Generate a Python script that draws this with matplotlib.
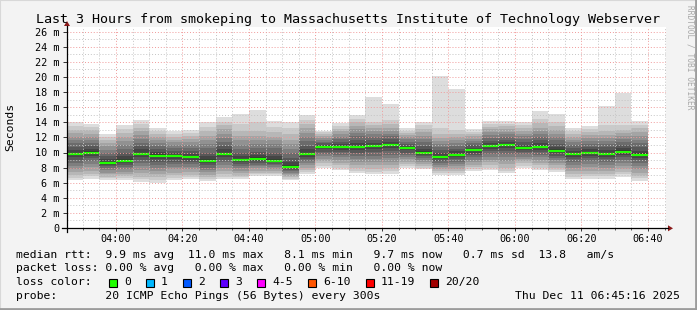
import matplotlib
matplotlib.use("Agg")
import matplotlib.pyplot as plt
import matplotlib.dates as mdates
import pandas as pd
from matplotlib.patches import Rectangle, Polygon
from matplotlib.lines import Line2D

plt.rcParams['font.family'] = ['DejaVu Sans Mono']

# ---- data ------------------------------------------------------------------
day = "2025-12-11 "
slots = ["03:45", "03:50", "03:55", "04:00", "04:05", "04:10", "04:15",
         "04:20", "04:25", "04:30", "04:35", "04:40", "04:45", "04:50",
         "04:55", "05:00", "05:05", "05:10", "05:15", "05:20", "05:25",
         "05:30", "05:35", "05:40", "05:45", "05:50", "05:55", "06:00",
         "06:05", "06:10", "06:15", "06:20", "06:25", "06:30", "06:35"]

# median rtt per 5 min step (ms)
median = [9.8, 10.0, 8.65, 8.9, 9.85, 9.6, 9.5, 9.4, 8.9, 9.8, 9.0, 9.15,
          8.9, 8.08, 9.75, 10.7, 10.7, 10.75, 10.85, 11.0, 10.6, 9.97, 9.45,
          9.7, 10.33, 10.8, 11.0, 10.6, 10.7, 10.2, 9.85, 9.97, 9.85, 10.1, 9.7]

# the 20 sorted ping times of every step (ms)
pings = [
    [6.3, 6.65, 7.0, 7.4, 7.85, 8.25, 8.65, 9.05, 9.4, 9.65, 9.95, 10.3, 10.7, 11.2, 11.65, 12.1, 12.55, 13.0, 13.5, 14.0],
    [6.5, 6.85, 7.2, 7.6, 8.05, 8.45, 8.85, 9.25, 9.6, 9.85, 10.15, 10.45, 10.85, 11.25, 11.65, 12.1, 12.5, 12.95, 13.35, 13.8],
    [6.35, 6.6, 6.8, 7.1, 7.35, 7.65, 7.9, 8.15, 8.4, 8.55, 8.8, 9.1, 9.5, 9.95, 10.35, 10.8, 11.2, 11.6, 12.05, 12.5],
    [6.35, 6.6, 6.85, 7.15, 7.45, 7.75, 8.05, 8.35, 8.6, 8.8, 9.1, 9.5, 9.95, 10.5, 11.0, 11.55, 12.05, 12.6, 13.1, 13.7],
    [6.05, 6.45, 6.8, 7.25, 7.7, 8.15, 8.6, 9.0, 9.4, 9.7, 10.0, 10.4, 10.8, 11.3, 11.8, 12.3, 12.8, 13.3, 13.8, 14.3],
    [6.0, 6.35, 6.7, 7.15, 7.6, 8.0, 8.4, 8.8, 9.15, 9.45, 9.75, 10.05, 10.4, 10.8, 11.2, 11.6, 12.0, 12.4, 12.8, 13.2],
    [6.35, 6.65, 7.0, 7.35, 7.75, 8.1, 8.45, 8.8, 9.15, 9.4, 9.65, 9.9, 10.25, 10.6, 11.0, 11.35, 11.7, 12.1, 12.45, 12.85],
    [6.45, 6.75, 7.05, 7.4, 7.75, 8.1, 8.45, 8.75, 9.05, 9.3, 9.55, 9.85, 10.2, 10.6, 11.0, 11.4, 11.8, 12.2, 12.6, 13.0],
    [6.2, 6.45, 6.75, 7.05, 7.4, 7.7, 8.0, 8.3, 8.6, 8.8, 9.1, 9.5, 10.0, 10.6, 11.15, 11.7, 12.25, 12.85, 13.4, 14.0],
    [6.45, 6.8, 7.1, 7.5, 7.95, 8.3, 8.7, 9.05, 9.4, 9.65, 10.0, 10.4, 10.9, 11.4, 11.95, 12.5, 13.05, 13.6, 14.1, 14.7],
    [6.45, 6.7, 6.95, 7.25, 7.6, 7.9, 8.15, 8.45, 8.7, 8.9, 9.2, 9.55, 10.0, 10.5, 11.0, 11.6, 12.2, 12.9, 13.8, 15.05],
    [6.9, 7.1, 7.35, 7.6, 7.9, 8.15, 8.4, 8.65, 8.9, 9.05, 9.35, 9.7, 10.1, 10.6, 11.1, 11.6, 12.2, 12.9, 14.1, 15.6],
    [6.9, 7.1, 7.3, 7.55, 7.8, 8.05, 8.3, 8.5, 8.7, 8.85, 9.1, 9.5, 10.0, 10.55, 11.1, 11.6, 12.1, 12.7, 13.4, 14.2],
    [6.35, 6.5, 6.7, 6.9, 7.1, 7.3, 7.5, 7.7, 7.9, 8.0, 8.3, 8.7, 9.3, 9.9, 10.5, 11.1, 11.7, 12.4, 13.2, 14.1],
    [7.2, 7.45, 7.7, 8.0, 8.35, 8.65, 8.9, 9.2, 9.45, 9.65, 9.95, 10.4, 10.9, 11.5, 12.05, 12.6, 13.2, 13.75, 14.35, 15.0],
    [8.0, 8.25, 8.55, 8.85, 9.2, 9.5, 9.8, 10.1, 10.4, 10.6, 10.8, 10.95, 11.2, 11.45, 11.65, 11.9, 12.15, 12.4, 12.65, 12.9],
    [7.7, 8.0, 8.3, 8.65, 9.0, 9.4, 9.7, 10.05, 10.35, 10.6, 10.85, 11.1, 11.4, 11.75, 12.1, 12.45, 12.8, 13.15, 13.5, 13.9],
    [7.25, 7.6, 7.95, 8.35, 8.8, 9.2, 9.6, 10.0, 10.35, 10.6, 10.9, 11.25, 11.7, 12.15, 12.6, 13.1, 13.55, 14.0, 14.5, 15.0],
    [7.1, 7.45, 7.85, 8.3, 8.75, 9.2, 9.6, 10.05, 10.4, 10.7, 11.0, 11.3, 11.65, 12.0, 12.4, 12.8, 13.2, 13.6, 14.1, 17.3],
    [7.1, 7.5, 7.9, 8.35, 8.8, 9.3, 9.7, 10.15, 10.55, 10.85, 11.15, 11.45, 11.8, 12.15, 12.5, 12.9, 13.3, 13.75, 14.3, 16.4],
    [7.9, 8.15, 8.45, 8.75, 9.1, 9.4, 9.7, 10.0, 10.3, 10.5, 10.7, 10.9, 11.15, 11.45, 11.75, 12.05, 12.3, 12.6, 12.9, 13.2],
    [7.8, 8.0, 8.25, 8.5, 8.75, 9.0, 9.25, 9.5, 9.7, 9.9, 10.15, 10.45, 10.85, 11.35, 11.8, 12.25, 12.7, 13.15, 13.6, 14.1],
    [7.0, 7.25, 7.5, 7.8, 8.1, 8.35, 8.65, 8.9, 9.15, 9.35, 9.6, 9.9, 10.3, 10.7, 11.1, 11.5, 11.95, 12.4, 13.3, 20.1],
    [7.0, 7.25, 7.55, 7.85, 8.2, 8.5, 8.8, 9.1, 9.4, 9.6, 9.85, 10.15, 10.5, 10.9, 11.3, 11.7, 12.1, 12.5, 13.0, 18.4],
    [7.5, 7.8, 8.05, 8.4, 8.75, 9.05, 9.4, 9.7, 10.0, 10.25, 10.45, 10.65, 10.95, 11.25, 11.55, 11.85, 12.15, 12.45, 12.75, 13.1],
    [7.7, 8.0, 8.35, 8.7, 9.05, 9.45, 9.8, 10.15, 10.45, 10.7, 10.95, 11.2, 11.55, 11.9, 12.3, 12.65, 13.05, 13.4, 13.8, 14.2],
    [7.25, 7.6, 8.0, 8.45, 8.9, 9.35, 9.75, 10.2, 10.55, 10.85, 11.15, 11.4, 11.7, 12.05, 12.4, 12.75, 13.1, 13.45, 13.8, 14.2],
    [8.0, 8.25, 8.6, 8.85, 9.15, 9.45, 9.75, 10.05, 10.3, 10.5, 10.75, 11.0, 11.35, 11.75, 12.15, 12.5, 12.9, 13.3, 13.7, 14.1],
    [7.7, 8.0, 8.3, 8.65, 9.0, 9.4, 9.7, 10.05, 10.35, 10.6, 10.9, 11.25, 11.65, 12.05, 12.45, 12.85, 13.3, 13.9, 14.4, 15.5],
    [7.45, 7.7, 8.0, 8.35, 8.65, 9.0, 9.3, 9.6, 9.9, 10.1, 10.4, 10.75, 11.15, 11.6, 12.05, 12.5, 12.95, 13.5, 14.1, 15.05],
    [6.45, 6.8, 7.15, 7.55, 7.95, 8.35, 8.75, 9.1, 9.45, 9.7, 10.0, 10.25, 10.6, 10.95, 11.35, 11.7, 12.05, 12.45, 12.8, 13.2],
    [6.5, 6.85, 7.2, 7.6, 8.05, 8.45, 8.85, 9.25, 9.6, 9.85, 10.1, 10.4, 10.75, 11.15, 11.55, 11.9, 12.3, 12.7, 13.1, 13.5],
    [6.5, 6.85, 7.2, 7.55, 8.0, 8.4, 8.75, 9.15, 9.45, 9.7, 10.0, 10.3, 10.7, 11.1, 11.5, 11.9, 12.3, 12.8, 13.7, 16.1],
    [6.8, 7.15, 7.45, 7.85, 8.25, 8.65, 9.0, 9.4, 9.7, 9.95, 10.3, 10.6, 10.95, 11.35, 11.75, 12.15, 12.55, 13.0, 13.6, 17.9],
    [6.27, 6.6, 6.95, 7.35, 7.8, 8.2, 8.6, 8.95, 9.3, 9.55, 9.9, 10.25, 10.7, 11.2, 11.7, 12.2, 12.7, 13.2, 13.7, 14.2],
]

y_ticks = list(range(0, 27, 2))
x_major = ["04:00", "04:20", "04:40", "05:00", "05:20", "05:40", "06:00", "06:20", "06:40"]

loss_labels = ["0", "1", "2", "3", "4-5", "6-10", "11-19", "20/20"]
loss_colors = ["#20ff00", "#00b8ff", "#0059ff", "#5e00ff", "#ff00ff", "#ff5500", "#ff0000", "#a10000"]

title = "Last 3 Hours from smokeping to Massachusetts Institute of Technology Webserver"
rtt_line = "median rtt:  9.9 ms avg  11.0 ms max   8.1 ms min   9.7 ms now   0.7 ms sd  13.8   am/s"
loss_line = "packet loss: 0.00 % avg   0.00 % max   0.00 % min   0.00 % now"
probe_line = "probe:       20 ICMP Echo Pings (56 Bytes) every 300s"
stamp = "Thu Dec 11 06:45:16 2025"
t_start, t_end = day + "03:45:16", day + "06:45:16"

# ---- figure ----------------------------------------------------------------
W, H = 697, 310
fig = plt.figure(figsize=(W / 100, H / 100), dpi=100, facecolor="#f3f3f3")


def fx(x):
    return x / W


def fy(y):
    return 1 - y / H


# canvas: x 67..665.5, y 26.7..228 (pixels)
ax = fig.add_axes([fx(67), fy(228), fx(665.5) - fx(67), fy(26.7) - fy(228)])
ax.set_facecolor("white")

times = pd.to_datetime([day + s for s in slots])
step = pd.Timedelta(minutes=5)
width = step / pd.Timedelta(days=1)

# smoke: band i spans ping i .. ping 21-i, darker toward the middle
for i in range(10):
    g = int(190 / 10 * (10 - (i + 1))) + 50
    col = "#%02x%02x%02x" % (g, g, g)
    lo = [p[i] for p in pings]
    hi = [p[19 - i] for p in pings]
    ax.bar(mdates.date2num(times), [h - l for h, l in zip(hi, lo)], bottom=lo,
           width=width, align="edge", color=col, linewidth=0, zorder=2)

# median as a short green bar (about 2 px high)
ax.hlines(median, mdates.date2num(times), mdates.date2num(times + step),
          colors=loss_colors[0], linewidth=1.6, zorder=3)

ax.set_xlim(mdates.date2num(pd.Timestamp(t_start)), mdates.date2num(pd.Timestamp(t_end)))
ax.set_ylim(0, (228 - 26.7) / 7.55)

# grid on top, dotted
minor_x = pd.date_range(day + "03:50", day + "06:45", freq="5min")
major_x = pd.to_datetime([day + s for s in x_major])
for t in minor_x:
    if t not in major_x:
        ax.axvline(mdates.date2num(t), color="#c4c4c4", lw=0.7, ls=(0, (1, 2)), zorder=4)
for v in range(1, 27, 2):
    ax.axhline(v, color="#c4c4c4", lw=0.7, ls=(0, (1, 2)), zorder=4)
for t in major_x:
    ax.axvline(mdates.date2num(t), color="#f09a9a", lw=0.7, ls=(0, (1, 2)), zorder=4)
for v in y_ticks[1:]:
    ax.axhline(v, color="#f09a9a", lw=0.7, ls=(0, (1, 2)), zorder=4)

for s in ax.spines.values():
    s.set_visible(False)

ax.set_yticks(y_ticks)
ax.set_yticklabels(["0"] + ["%d m" % v for v in y_ticks[1:]])
ax.set_xticks(mdates.date2num(major_x))
ax.set_xticklabels(x_major)
ax.set_xticks(mdates.date2num(minor_x), minor=True)
ax.tick_params(axis="y", length=3, width=0.7, pad=2.5, labelsize=7.3, color="#333333")
ax.tick_params(axis="x", which="major", length=2.5, width=0.7, pad=2, labelsize=7.3, color="#333333")
ax.tick_params(axis="x", which="minor", length=1.5, width=0.7, color="#555555")

# axes with arrow heads
fig.add_artist(Line2D([fx(62), fx(668)], [fy(228.3), fy(228.3)], color="black", lw=0.9))
fig.add_artist(Line2D([fx(67), fx(67)], [fy(232), fy(26)], color="black", lw=0.9))
fig.add_artist(Polygon([(fx(668), fy(225.3)), (fx(673), fy(228.3)), (fx(668), fy(231.3))],
                       closed=True, color="#8b1a1a", lw=0))
fig.add_artist(Polygon([(fx(64), fy(26)), (fx(67), fy(21)), (fx(70), fy(26))],
                       closed=True, color="#8b1a1a", lw=0))

# texts
fig.text(fx(348), fy(19), title, ha="center", va="center", fontsize=9.6, color="black")
fig.text(fx(10), fy(127), "Seconds", rotation=90, ha="center", va="center", fontsize=8.2)
fig.text(fx(690), fy(57), "RRDTOOL / TOBI OETIKER", rotation=-90, ha="center", va="center",
         fontsize=5.7, color="#a8a8a8")

fs = 8.2
fig.text(fx(16), fy(257.5), rtt_line, fontsize=fs, va="baseline")
fig.text(fx(16), fy(271.3), loss_line, fontsize=fs, va="baseline")
fig.text(fx(16), fy(285.2), "loss color:", fontsize=fs, va="baseline")
fig.text(fx(16), fy(299), probe_line, fontsize=fs, va="baseline")
fig.text(fx(680), fy(299), stamp, fontsize=fs, va="baseline", ha="right")

x = 108.7
for lab, col in zip(loss_labels, loss_colors):
    fig.add_artist(Rectangle((fx(x), fy(287)), fx(8), 8 / H, facecolor=col,
                             edgecolor="black", lw=0.8))
    fig.text(fx(x + 15.3), fy(285.2), lab, fontsize=fs, va="baseline")
    x += 15.3 + len(lab) * 6.82 + 15

# frame around the picture
fig.add_artist(Line2D([0, 0, 1], [0, 1, 1], color="#d8d8d8", lw=1.5))
fig.add_artist(Line2D([0, 1, 1], [fy(309), fy(309), 1], color="#9c9c9c", lw=2))
fig.add_artist(Line2D([fx(696), fx(696)], [fy(310), 1], color="#9c9c9c", lw=2))

fig.savefig("out.png", dpi=100, facecolor=fig.get_facecolor())
